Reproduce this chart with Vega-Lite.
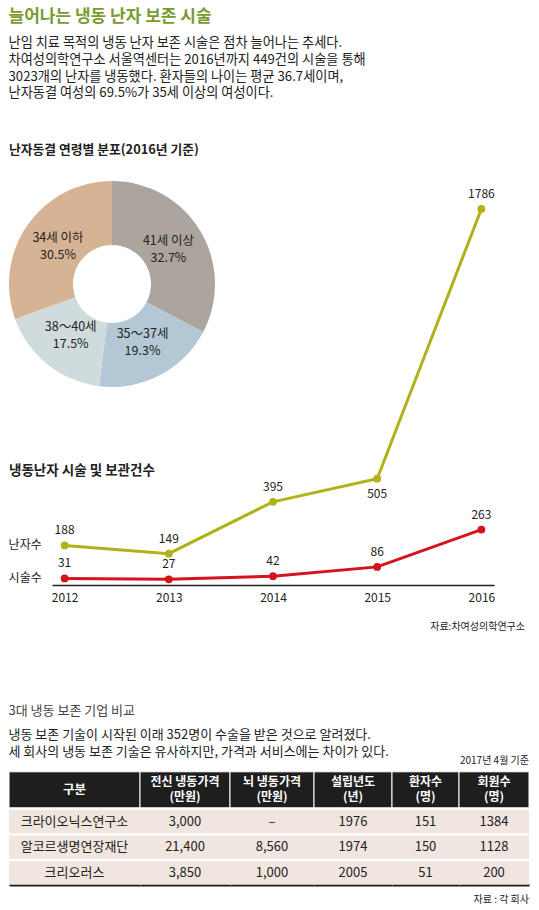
{
  "$schema": "https://vega.github.io/schema/vega-lite/v6.json",
  "padding": {"left": 8, "top": 8, "right": 5, "bottom": 4},
  "background": "white",
  "config": {
    "font": "Noto Sans CJK KR",
    "view": {"stroke": null},
    "title": {"font": "Noto Sans CJK KR", "subtitleFont": "Noto Sans CJK KR", "anchor": "start"},
    "axis": {"labelFont": "Noto Sans CJK KR"},
    "text": {"font": "Noto Sans CJK KR"}
  },
  "title": {
    "text": "늘어나는 냉동 난자 보존 시술",
    "subtitle": [
      "난임 치료 목적의 냉동 난자 보존 시술은 점차 늘어나는 추세다.",
      "차여성의학연구소 서울역센터는 2016년까지 449건의 시술을 통해",
      "3023개의 난자를 냉동했다. 환자들의 나이는 평균 36.7세이며,",
      "난자동결 여성의 69.5%가 35세 이상의 여성이다."
    ],
    "anchor": "start",
    "fontSize": 17,
    "fontWeight": "bold",
    "color": "#7b9b2e",
    "subtitleFontSize": 13.2,
    "subtitleColor": "#222222",
    "subtitleLineHeight": 16.8,
    "subtitlePadding": 11,
    "offset": 43.5
  },
  "datasets": {
    "ages": [
      {"idx": 1, "age": "41세 이상", "share": 0.327},
      {"idx": 2, "age": "35～37세", "share": 0.193},
      {"idx": 3, "age": "38～40세", "share": 0.175},
      {"idx": 4, "age": "34세 이하", "share": 0.305}
    ],
    "procedures": [
      {"series": "난자수", "year": 2012, "count": 188},
      {"series": "난자수", "year": 2013, "count": 149},
      {"series": "난자수", "year": 2014, "count": 395},
      {"series": "난자수", "year": 2015, "count": 505},
      {"series": "난자수", "year": 2016, "count": 1786},
      {"series": "시술수", "year": 2012, "count": 31},
      {"series": "시술수", "year": 2013, "count": 27},
      {"series": "시술수", "year": 2014, "count": 42},
      {"series": "시술수", "year": 2015, "count": 86},
      {"series": "시술수", "year": 2016, "count": 263}
    ],
    "companies": [
      {"name": "크라이오닉스연구소", "wholeBody": 3000, "brain": null, "founded": 1976, "patients": 151, "members": 1384},
      {"name": "알코르생명연장재단", "wholeBody": 21400, "brain": 8560, "founded": 1974, "patients": 150, "members": 1128},
      {"name": "크리오러스", "wholeBody": 3850, "brain": 1000, "founded": 2005, "patients": 51, "members": 200}
    ]
  },
  "resolve": {"scale": {"color": "independent", "theta": "independent"}},
  "bounds": "flush",
  "spacing": 25,
  "vconcat": [
    {
      "title": {"text": "난자동결 연령별 분포(2016년 기준)", "anchor": "start", "fontSize": 12.8, "fontWeight": "bold", "color": "#222222", "offset": 24},
      "vconcat": [
        {
          "width": 206,
          "height": 206,
          "title": {"text": "냉동난자 시술 및 보관건수", "orient": "bottom", "anchor": "start", "frame": "group", "fontSize": 13.5, "fontWeight": "bold", "color": "#222222", "offset": 77},
          "data": {"name": "ages"},
          "encoding": {
            "theta": {"field": "share", "type": "quantitative", "stack": true},
            "order": {"field": "idx", "type": "quantitative"}
          },
          "layer": [
            {
              "mark": {"type": "arc", "outerRadius": 103, "innerRadius": 39},
              "encoding": {
                "color": {
                  "field": "age", "type": "nominal",
                  "scale": {"domain": ["41세 이상", "35～37세", "38～40세", "34세 이하"], "range": ["#aba59d", "#b3c8d4", "#d0dbdd", "#d6b394"]},
                  "legend": null
                }
              }
            },
            {
              "mark": {"type": "text", "radius": 66, "dy": -8.5, "fontSize": 12.5, "color": "#222222"},
              "encoding": {"text": {"field": "age", "type": "nominal"}}
            },
            {
              "mark": {"type": "text", "radius": 66, "dy": 8.5, "fontSize": 12.5, "color": "#222222"},
              "encoding": {"text": {"field": "share", "type": "quantitative", "format": ".1%"}}
            }
          ]
        }
      ]
    },
    {
      "spacing": 71.8,
      "vconcat": [
        {
          "width": 516,
          "height": 379,
          "data": {"name": "procedures"},
          "title": {"text": "자료:차여성의학연구소", "orient": "bottom", "anchor": "end", "frame": "group", "fontSize": 10, "fontWeight": "normal", "color": "#222222", "offset": 18.7},
          "encoding": {
            "x": {
              "field": "year", "type": "ordinal",
              "scale": {"type": "point", "range": [43, 485], "padding": 0.121},
              "axis": {"title": null, "ticks": false, "grid": false, "labelAngle": 0, "domainColor": "#222222", "domainWidth": 1.5, "labelFontSize": 12, "labelColor": "#222222", "labelPadding": 7}
            },
            "y": {"field": "count", "type": "quantitative", "scale": {"domain": [0, 1800]}, "axis": null},
            "color": {
              "field": "series", "type": "nominal",
              "scale": {"domain": ["난자수", "시술수"], "range": ["#b3b11a", "#d6121c"]},
              "legend": null
            }
          },
          "layer": [
            {"mark": {"type": "line", "strokeWidth": 3}},
            {"mark": {"type": "point", "filled": true, "size": 60, "opacity": 1}},
            {
              "transform": [{"filter": "!(datum.series === '난자수' && datum.year === 2015)"}],
              "mark": {"type": "text", "dy": -15, "fontSize": 12},
              "encoding": {"text": {"field": "count", "type": "quantitative", "format": "d"}, "color": {"value": "#222222"}}
            },
            {
              "transform": [{"filter": "datum.series === '난자수' && datum.year === 2015"}],
              "mark": {"type": "text", "dy": 15, "fontSize": 12},
              "encoding": {"text": {"field": "count", "type": "quantitative", "format": "d"}, "color": {"value": "#222222"}}
            },
            {
              "transform": [{"filter": "datum.year === 2012"}],
              "mark": {"type": "text", "align": "left", "dx": -56, "fontSize": 12},
              "encoding": {"text": {"field": "series", "type": "nominal"}, "color": {"value": "#222222"}}
            }
          ]
        },
        {
          "title": {
            "text": "3대 냉동 보존 기업 비교",
            "subtitle": [
              "냉동 보존 기술이 시작된 이래 352명이 수술을 받은 것으로 알려졌다.",
              "세 회사의 냉동 보존 기술은 유사하지만, 가격과 서비스에는 차이가 있다."
            ],
            "anchor": "start",
            "fontSize": 13,
            "fontWeight": "normal",
            "color": "#444444",
            "subtitleFontSize": 13,
            "subtitleColor": "#222222",
            "subtitleLineHeight": 17.3,
            "subtitlePadding": 11,
            "offset": -3
          },
          "spacing": 1,
          "vconcat": [
            {
              "bounds": "flush",
              "spacing": 0,
              "hconcat": [
                {
                  "width": 131, "height": 36,
                  "data": {"values": [{"line1": "구분"}]},
                  "layer": [
                    {"mark": {"type": "rect", "fill": "#1e1e1e", "stroke": "white", "strokeWidth": 1},
                     "encoding": {"x": {"datum": 0, "type": "quantitative", "scale": {"domain": [0, 1]}, "axis": null}, "x2": {"datum": 1}, "y": {"datum": 0, "type": "quantitative", "scale": {"domain": [0, 1]}, "axis": null}, "y2": {"datum": 1}}},
                    {"mark": {"type": "text", "color": "white", "fontSize": 12.5, "fontWeight": "bold"},
                     "encoding": {"x": {"datum": 0.5, "type": "quantitative"}, "y": {"datum": 0.5, "type": "quantitative"}, "text": {"field": "line1", "type": "nominal"}}}
                  ]
                },
                {
                  "width": 90, "height": 36,
                  "data": {"values": [{"line1": "전신 냉동가격", "line2": "(만원)"}]},
                  "layer": [
                    {"mark": {"type": "rect", "fill": "#1e1e1e", "stroke": "white", "strokeWidth": 1},
                     "encoding": {"x": {"datum": 0, "type": "quantitative", "scale": {"domain": [0, 1]}, "axis": null}, "x2": {"datum": 1}, "y": {"datum": 0, "type": "quantitative", "scale": {"domain": [0, 1]}, "axis": null}, "y2": {"datum": 1}}},
                    {"mark": {"type": "text", "color": "white", "fontSize": 12, "fontWeight": "bold", "dy": -7.5},
                     "encoding": {"x": {"datum": 0.5, "type": "quantitative"}, "y": {"datum": 0.5, "type": "quantitative"}, "text": {"field": "line1", "type": "nominal"}}},
                    {"mark": {"type": "text", "color": "white", "fontSize": 12, "fontWeight": "bold", "dy": 7.5},
                     "encoding": {"x": {"datum": 0.5, "type": "quantitative"}, "y": {"datum": 0.5, "type": "quantitative"}, "text": {"field": "line2", "type": "nominal"}}}
                  ]
                },
                {
                  "width": 84, "height": 36,
                  "data": {"values": [{"line1": "뇌 냉동가격", "line2": "(만원)"}]},
                  "layer": [
                    {"mark": {"type": "rect", "fill": "#1e1e1e", "stroke": "white", "strokeWidth": 1},
                     "encoding": {"x": {"datum": 0, "type": "quantitative", "scale": {"domain": [0, 1]}, "axis": null}, "x2": {"datum": 1}, "y": {"datum": 0, "type": "quantitative", "scale": {"domain": [0, 1]}, "axis": null}, "y2": {"datum": 1}}},
                    {"mark": {"type": "text", "color": "white", "fontSize": 12, "fontWeight": "bold", "dy": -7.5},
                     "encoding": {"x": {"datum": 0.5, "type": "quantitative"}, "y": {"datum": 0.5, "type": "quantitative"}, "text": {"field": "line1", "type": "nominal"}}},
                    {"mark": {"type": "text", "color": "white", "fontSize": 12, "fontWeight": "bold", "dy": 7.5},
                     "encoding": {"x": {"datum": 0.5, "type": "quantitative"}, "y": {"datum": 0.5, "type": "quantitative"}, "text": {"field": "line2", "type": "nominal"}}}
                  ]
                },
                {
                  "width": 78, "height": 36,
                  "data": {"values": [{"line1": "설립년도", "line2": "(년)"}]},
                  "layer": [
                    {"mark": {"type": "rect", "fill": "#1e1e1e", "stroke": "white", "strokeWidth": 1},
                     "encoding": {"x": {"datum": 0, "type": "quantitative", "scale": {"domain": [0, 1]}, "axis": null}, "x2": {"datum": 1}, "y": {"datum": 0, "type": "quantitative", "scale": {"domain": [0, 1]}, "axis": null}, "y2": {"datum": 1}}},
                    {"mark": {"type": "text", "color": "white", "fontSize": 12, "fontWeight": "bold", "dy": -7.5},
                     "encoding": {"x": {"datum": 0.5, "type": "quantitative"}, "y": {"datum": 0.5, "type": "quantitative"}, "text": {"field": "line1", "type": "nominal"}}},
                    {"mark": {"type": "text", "color": "white", "fontSize": 12, "fontWeight": "bold", "dy": 7.5},
                     "encoding": {"x": {"datum": 0.5, "type": "quantitative"}, "y": {"datum": 0.5, "type": "quantitative"}, "text": {"field": "line2", "type": "nominal"}}}
                  ]
                },
                {
                  "width": 67, "height": 36,
                  "data": {"values": [{"line1": "환자수", "line2": "(명)"}]},
                  "layer": [
                    {"mark": {"type": "rect", "fill": "#1e1e1e", "stroke": "white", "strokeWidth": 1},
                     "encoding": {"x": {"datum": 0, "type": "quantitative", "scale": {"domain": [0, 1]}, "axis": null}, "x2": {"datum": 1}, "y": {"datum": 0, "type": "quantitative", "scale": {"domain": [0, 1]}, "axis": null}, "y2": {"datum": 1}}},
                    {"mark": {"type": "text", "color": "white", "fontSize": 12, "fontWeight": "bold", "dy": -7.5},
                     "encoding": {"x": {"datum": 0.5, "type": "quantitative"}, "y": {"datum": 0.5, "type": "quantitative"}, "text": {"field": "line1", "type": "nominal"}}},
                    {"mark": {"type": "text", "color": "white", "fontSize": 12, "fontWeight": "bold", "dy": 7.5},
                     "encoding": {"x": {"datum": 0.5, "type": "quantitative"}, "y": {"datum": 0.5, "type": "quantitative"}, "text": {"field": "line2", "type": "nominal"}}}
                  ]
                },
                {
                  "width": 70, "height": 36,
                  "title": {"text": "2017년 4월 기준", "anchor": "end", "frame": "group", "fontSize": 10, "fontWeight": "normal", "color": "#222222", "offset": 5.3},
                  "data": {"values": [{"line1": "회원수", "line2": "(명)"}]},
                  "layer": [
                    {"mark": {"type": "rect", "fill": "#1e1e1e", "stroke": "white", "strokeWidth": 1},
                     "encoding": {"x": {"datum": 0, "type": "quantitative", "scale": {"domain": [0, 1]}, "axis": null}, "x2": {"datum": 1}, "y": {"datum": 0, "type": "quantitative", "scale": {"domain": [0, 1]}, "axis": null}, "y2": {"datum": 1}}},
                    {"mark": {"type": "text", "color": "white", "fontSize": 12, "fontWeight": "bold", "dy": -7.5},
                     "encoding": {"x": {"datum": 0.5, "type": "quantitative"}, "y": {"datum": 0.5, "type": "quantitative"}, "text": {"field": "line1", "type": "nominal"}}},
                    {"mark": {"type": "text", "color": "white", "fontSize": 12, "fontWeight": "bold", "dy": 7.5},
                     "encoding": {"x": {"datum": 0.5, "type": "quantitative"}, "y": {"datum": 0.5, "type": "quantitative"}, "text": {"field": "line2", "type": "nominal"}}}
                  ]
                }
              ]
            },
            {
              "bounds": "flush",
              "spacing": 0,
              "hconcat": [
                {
                  "width": 131, "height": 75,
                  "data": {"name": "companies"},
                  "encoding": {"y": {"field": "name", "type": "nominal", "sort": null, "scale": {"paddingInner": 0.08, "paddingOuter": 0}, "axis": null}},
                  "layer": [
                    {"mark": {"type": "rect", "fill": "#f0e6df"},
                     "encoding": {"x": {"datum": 0, "type": "quantitative", "scale": {"domain": [0, 1]}, "axis": {"labels": false, "ticks": false, "grid": false, "title": null, "domainColor": "#1a1a1a", "domainWidth": 2.5}}, "x2": {"datum": 1}}},
                    {"mark": {"type": "text", "fontSize": 13, "color": "#222222"},
                     "encoding": {"x": {"datum": 0.5, "type": "quantitative"}, "text": {"field": "name", "type": "nominal"}}}
                  ]
                },
                {
                  "width": 90, "height": 75,
                  "data": {"name": "companies"},
                  "encoding": {"y": {"field": "name", "type": "nominal", "sort": null, "scale": {"paddingInner": 0.08, "paddingOuter": 0}, "axis": null}},
                  "layer": [
                    {"mark": {"type": "rect", "fill": "#f0e6df"},
                     "encoding": {"x": {"datum": 0, "type": "quantitative", "scale": {"domain": [0, 1]}, "axis": {"labels": false, "ticks": false, "grid": false, "title": null, "domainColor": "#1a1a1a", "domainWidth": 2.5}}, "x2": {"datum": 1}}},
                    {"mark": {"type": "text", "fontSize": 13, "color": "#222222"},
                     "encoding": {"x": {"datum": 0.5, "type": "quantitative"}, "text": {"field": "wholeBody", "type": "quantitative", "format": ",d"}}}
                  ]
                },
                {
                  "width": 84, "height": 75,
                  "data": {"name": "companies"},
                  "encoding": {"y": {"field": "name", "type": "nominal", "sort": null, "scale": {"paddingInner": 0.08, "paddingOuter": 0}, "axis": null}},
                  "layer": [
                    {"mark": {"type": "rect", "fill": "#f0e6df"},
                     "encoding": {"x": {"datum": 0, "type": "quantitative", "scale": {"domain": [0, 1]}, "axis": {"labels": false, "ticks": false, "grid": false, "title": null, "domainColor": "#1a1a1a", "domainWidth": 2.5}}, "x2": {"datum": 1}}},
                    {"mark": {"type": "text", "fontSize": 13, "color": "#222222"},
                     "encoding": {"x": {"datum": 0.5, "type": "quantitative"}, "text": {"condition": {"test": "datum.brain == null", "value": "–"}, "field": "brain", "type": "quantitative", "format": ",d"}}}
                  ]
                },
                {
                  "width": 78, "height": 75,
                  "data": {"name": "companies"},
                  "encoding": {"y": {"field": "name", "type": "nominal", "sort": null, "scale": {"paddingInner": 0.08, "paddingOuter": 0}, "axis": null}},
                  "layer": [
                    {"mark": {"type": "rect", "fill": "#f0e6df"},
                     "encoding": {"x": {"datum": 0, "type": "quantitative", "scale": {"domain": [0, 1]}, "axis": {"labels": false, "ticks": false, "grid": false, "title": null, "domainColor": "#1a1a1a", "domainWidth": 2.5}}, "x2": {"datum": 1}}},
                    {"mark": {"type": "text", "fontSize": 13, "color": "#222222"},
                     "encoding": {"x": {"datum": 0.5, "type": "quantitative"}, "text": {"field": "founded", "type": "quantitative", "format": "d"}}}
                  ]
                },
                {
                  "width": 67, "height": 75,
                  "data": {"name": "companies"},
                  "encoding": {"y": {"field": "name", "type": "nominal", "sort": null, "scale": {"paddingInner": 0.08, "paddingOuter": 0}, "axis": null}},
                  "layer": [
                    {"mark": {"type": "rect", "fill": "#f0e6df"},
                     "encoding": {"x": {"datum": 0, "type": "quantitative", "scale": {"domain": [0, 1]}, "axis": {"labels": false, "ticks": false, "grid": false, "title": null, "domainColor": "#1a1a1a", "domainWidth": 2.5}}, "x2": {"datum": 1}}},
                    {"mark": {"type": "text", "fontSize": 13, "color": "#222222"},
                     "encoding": {"x": {"datum": 0.5, "type": "quantitative"}, "text": {"field": "patients", "type": "quantitative", "format": "d"}}}
                  ]
                },
                {
                  "width": 70, "height": 75,
                  "title": {"text": "자료 : 각 회사", "orient": "bottom", "anchor": "end", "frame": "group", "fontSize": 10, "fontWeight": "normal", "color": "#222222", "offset": 10},
                  "data": {"name": "companies"},
                  "encoding": {"y": {"field": "name", "type": "nominal", "sort": null, "scale": {"paddingInner": 0.08, "paddingOuter": 0}, "axis": null}},
                  "layer": [
                    {"mark": {"type": "rect", "fill": "#f0e6df"},
                     "encoding": {"x": {"datum": 0, "type": "quantitative", "scale": {"domain": [0, 1]}, "axis": {"labels": false, "ticks": false, "grid": false, "title": null, "domainColor": "#1a1a1a", "domainWidth": 2.5}}, "x2": {"datum": 1}}},
                    {"mark": {"type": "text", "fontSize": 13, "color": "#222222"},
                     "encoding": {"x": {"datum": 0.5, "type": "quantitative"}, "text": {"field": "members", "type": "quantitative", "format": "d"}}}
                  ]
                }
              ]
            }
          ]
        }
      ]
    }
  ]
}
